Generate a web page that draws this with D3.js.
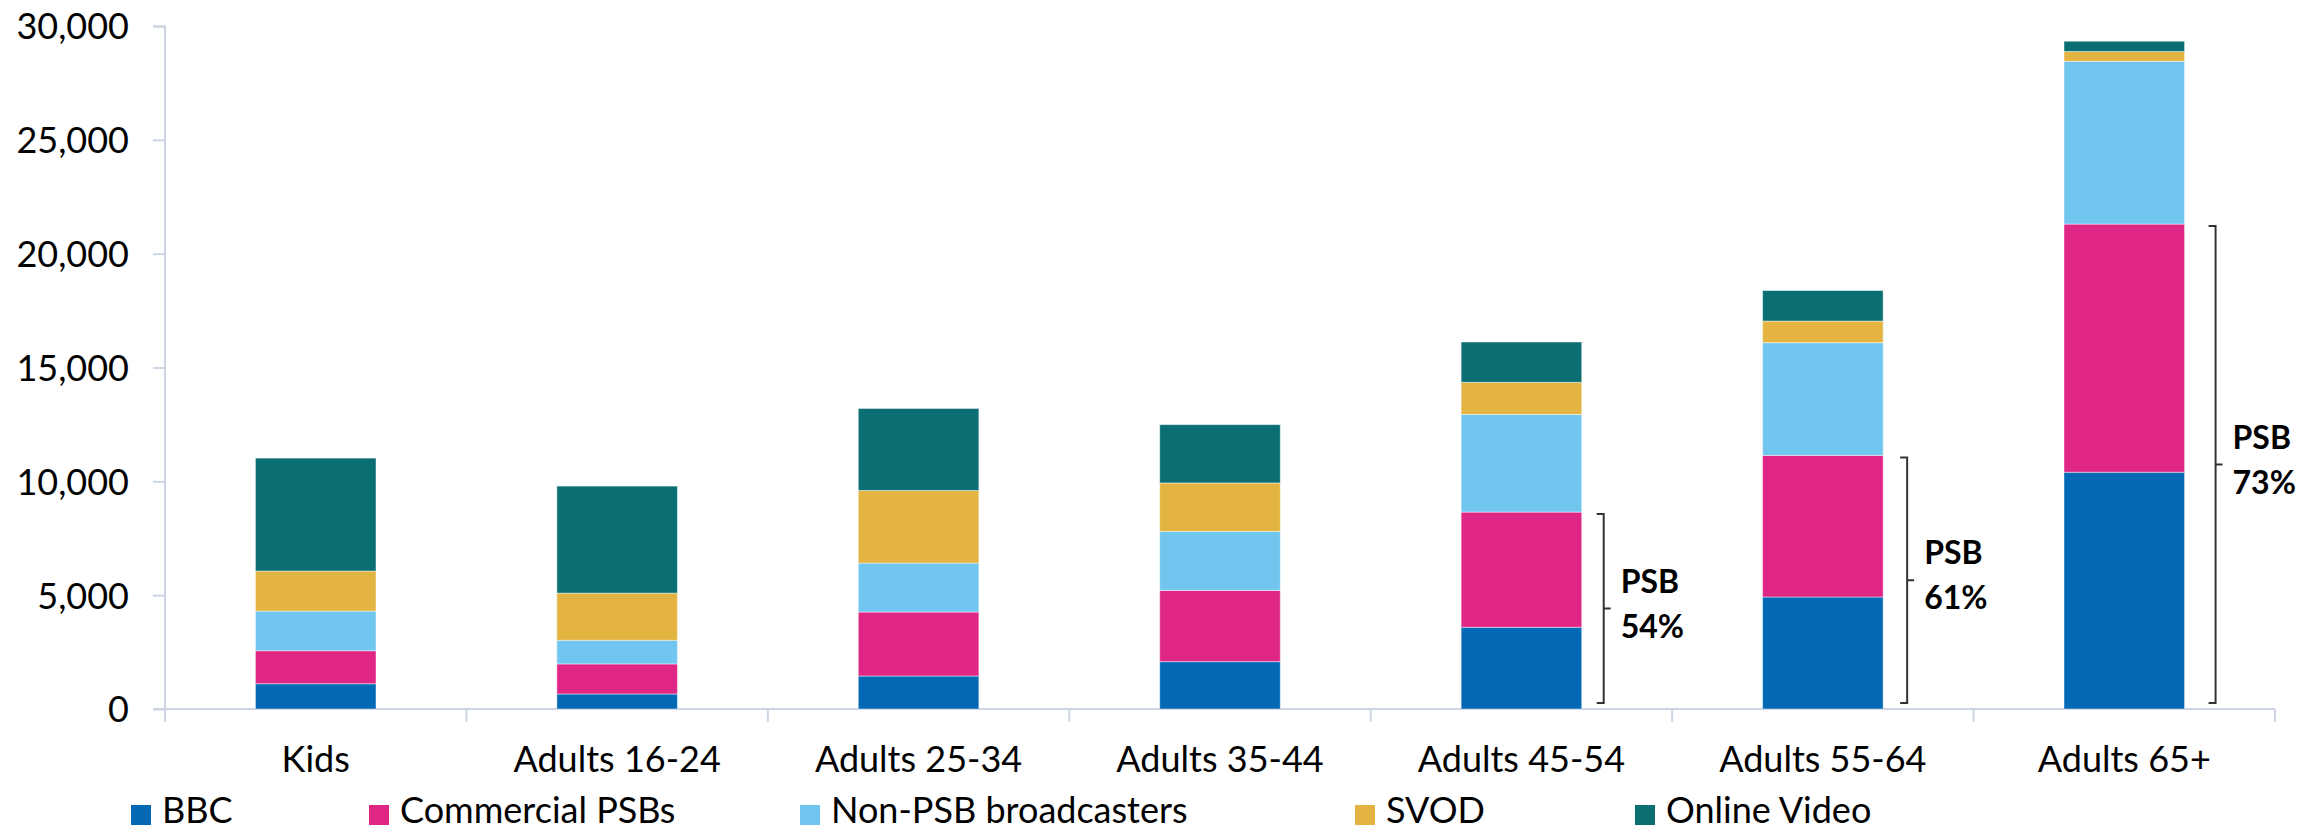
<!DOCTYPE html>
<html>
<head>
<meta charset="utf-8">
<script src="https://cdn.jsdelivr.net/npm/d3@7/dist/d3.min.js"></script>
<style>
  html, body { margin: 0; padding: 0; background: #ffffff; }
  svg { display: block; font-family: Lato, "Noto Sans", sans-serif; }
</style>
</head>
<body>
<svg id="chart" width="2297" height="832"></svg>
<script>
// Viewing minutes by age group, split by source
const categories = ["Kids", "Adults 16-24", "Adults 25-34", "Adults 35-44", "Adults 45-54", "Adults 55-64", "Adults 65+"];
const seriesNames = ["BBC", "Commercial PSBs", "Non-PSB broadcasters", "SVOD", "Online Video"];
const bbc        = [1110,  660, 1450, 2080, 3590, 4920, 10400];
const commercial = [1450, 1320, 2810, 3130, 5060, 6220, 10900];
const nonPsb     = [1740, 1040, 2150, 2590, 4290, 4950,  7150];
const svod       = [1760, 2070, 3190, 2130, 1410,  950,   430];
const online     = [4960, 4700, 3600, 2560, 1770, 1340,   450];
const yTicks = [0, 5000, 10000, 15000, 20000, 25000, 30000];
// Age groups that carry a PSB-share bracket
const bracketed = ["Adults 45-54", "Adults 55-64", "Adults 65+"];

const colors = ["#0369b5", "#e02684", "#71c6f0", "#e3b442", "#0b6e73"];
const seriesValues = [bbc, commercial, nonPsb, svod, online];

const rows = categories.map((c, i) => {
  const r = { category: c };
  seriesNames.forEach((s, k) => { r[s] = seriesValues[k][i]; });
  return r;
});

const svg = d3.select("#chart");
const axisColor = "#ccd5e4";

const x = d3.scaleBand().domain(categories).range([165, 2275]).paddingInner(0.6).paddingOuter(0.3);
const y = d3.scaleLinear().domain([0, 30000]).range([709, 26]);

// y axis
const yAxis = svg.append("g").attr("transform", "translate(165,0)")
  .call(d3.axisLeft(y).tickValues(yTicks).tickSize(12).tickPadding(24).tickFormat(d3.format(",")));
yAxis.select(".domain").attr("stroke", axisColor).attr("stroke-width", 2)
  .attr("d", "M-12,26.5H0V722");
yAxis.selectAll(".tick line").attr("stroke", axisColor).attr("stroke-width", 2);
yAxis.selectAll(".tick text").attr("font-size", 36).attr("fill", "#000")
  .attr("font-family", "Lato, sans-serif").attr("dy", "0.36em");

// x axis with ticks at category boundaries
const xAxis = svg.append("g").attr("transform", "translate(0,709)");
xAxis.append("line").attr("x1", 153).attr("x2", 2275).attr("y1", 0).attr("y2", 0)
  .attr("stroke", axisColor).attr("stroke-width", 2);
const step = x.step();
const boundaries = d3.range(categories.length + 1).map(i => 165 + i * step);
xAxis.selectAll("line.bound").data(boundaries.slice(1)).join("line")
  .attr("class", "bound")
  .attr("x1", d => d).attr("x2", d => d).attr("y1", 0).attr("y2", 13)
  .attr("stroke", axisColor).attr("stroke-width", 2);
xAxis.selectAll("text").data(categories).join("text")
  .attr("x", d => x(d) + x.bandwidth() / 2).attr("y", 63)
  .attr("text-anchor", "middle").attr("font-size", 36).attr("fill", "#000")
  .text(d => d);

// stacked bars
const stack = d3.stack().keys(seriesNames);
const layers = stack(rows);
svg.append("g").selectAll("g").data(layers).join("g")
  .attr("fill", (d, i) => colors[i])
  .selectAll("rect").data(d => d).join("rect")
  .attr("x", d => x(d.data.category))
  .attr("width", x.bandwidth())
  .attr("y", d => y(d[1]))
  .attr("height", d => y(d[0]) - y(d[1]))
  .attr("stroke", "rgba(255,255,255,0.45)").attr("stroke-width", 1);

// PSB share brackets
const bracketGap = { "Adults 45-54": 22, "Adults 55-64": 24, "Adults 65+": 31 };
const ann = svg.append("g");
bracketed.forEach(c => {
  const i = categories.indexOf(c);
  const psb = bbc[i] + commercial[i];
  const total = bbc[i] + commercial[i] + nonPsb[i] + svod[i] + online[i];
  const share = Math.round(psb / total * 100);
  const bx = x(c) + x.bandwidth() + bracketGap[c];
  const top = y(psb) + 2, bottom = y(0) - 6, mid = (top + bottom) / 2;
  ann.append("path")
    .attr("d", `M${bx - 7},${top}H${bx}V${bottom}H${bx - 7}M${bx},${mid}H${bx + 7}`)
    .attr("fill", "none").attr("stroke", "#333").attr("stroke-width", 2);
  const t = ann.append("text").attr("font-size", 32).attr("font-weight", "bold").attr("fill", "#000");
  t.append("tspan").attr("x", bx + 17).attr("y", mid - 16).text("PSB");
  t.append("tspan").attr("x", bx + 17).attr("y", mid + 29).text(share + "%");
});

// legend
const legendX = [131, 369, 800, 1355, 1635];
const legend = svg.append("g");
seriesNames.forEach((s, i) => {
  legend.append("rect").attr("x", legendX[i]).attr("y", 805).attr("width", 20).attr("height", 20).attr("fill", colors[i]);
  legend.append("text").attr("x", legendX[i] + 31).attr("y", 823)
    .attr("font-size", 36).attr("fill", "#000").text(s);
});
</script>
</body>
</html>
